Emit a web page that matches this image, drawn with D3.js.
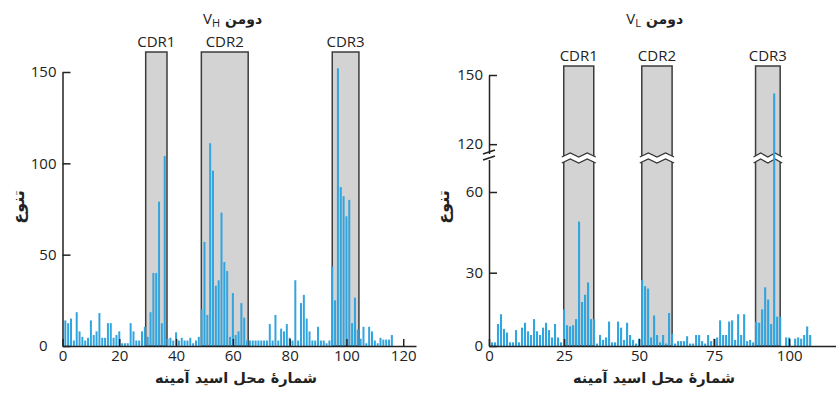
<!DOCTYPE html>
<html>
<head>
<meta charset="utf-8">
<script src="https://cdn.jsdelivr.net/npm/d3@7"></script>
<style>
  body { margin: 0; background: #fff; }
  svg { display: block; }
  .axis path, .axis line { stroke: #222; stroke-width: 1.5; }
  .axis text { font-family: "Open Sans", sans-serif; font-size: 15px; fill: #222; }
</style>
</head>
<body>
<div id="chart"></div>
<script>
// variability per residue
var vhValues = [14, 12.5, 15, 3, 18.5, 8, 5, 3, 4.5, 14, 6, 8, 18, 4.5, 4.5, 12.5, 12.5, 4.5, 6, 8,
  1.5, 1.5, 1.5, 12.5, 8, 3, 3, 8, 10.5, 5, 18.5, 40, 40, 79, 12.5, 104, 4, 4.5, 3, 7.5,
  3, 4.5, 3, 3, 4.5, 1.5, 3, 5, 20, 57, 17, 111, 96, 33, 36, 73, 46, 41, 5, 29,
  6, 8, 23.5, 15.5, 3, 3, 3, 3, 3, 3, 3, 3, 12, 3, 17, 3, 9.5, 8, 12, 4.5,
  3, 36, 3, 23.5, 28, 15, 8, 3, 3, 10.5, 3, 3, 1.5, 3, 43.5, 25, 152, 87, 82, 71,
  80, 12.5, 26.5, 9, 4, 10.5, 1.5, 10.5, 8, 3, 1.5, 4.5, 3.5, 3.5, 3.5, 6];

var vlValues = [1.5, 1.5, 9, 13, 7, 5.5, 1.5, 1.5, 6.5, 1.5, 7.5, 9.5, 6, 4.5, 11, 6, 4.5, 7.5, 9.5, 6.5,
  3.5, 9, 3.5, 1.5, 15, 8.5, 8, 8.5, 11, 49, 18, 21, 26, 11, 11, 1, 4.5, 2.5, 3.5, 10,
  1.5, 1.5, 10, 7.5, 2.5, 9.5, 4.5, 2.5, 1, 3, 27, 24.5, 23.5, 3.5, 12.5, 4.5, 1.5, 4.5, 1, 13.5,
  5, 1, 2, 2, 2, 4, 1, 1, 4.5, 4.5, 2, 1, 4.5, 2, 3, 3.5, 10.5, 4.5, 4.5, 10,
  10.5, 2.5, 13, 4.5, 13, 2, 2.5, 1.5, 10, 9.5, 15, 24, 19, 9, 142, 12, 12, 0, 3.5, 3.5,
  0, 3, 3.5, 3, 4.5, 8, 4.5];

var cdrNames = ["CDR1", "CDR2", "CDR3"];
var vhCdr = [[29.3, 36.8], [48.9, 65.4], [95, 104.4]];
var vlCdr = [[24.9, 34.9], [50.9, 61], [88.8, 97]];

var vhXTicks = [0, 20, 40, 60, 80, 100, 120];
var vhYTicks = [0, 50, 100, 150];
var vlXTicks = [0, 25, 50, 75, 100];
var vlYTicks = [0, 30, 60, 120, 150];

var domainWord = "دومن";
var xTitle = "شمارۀ محل اسید آمینه";
var yTitle = "تنوع";

var width = 836, height = 394;
var svg = d3.select('#chart').append('svg').attr('width', width).attr('height', height);

function drawPanel(p) {
  var g = svg.append('g');
  var y0 = p.y(0);

  // CDR boxes
  g.selectAll('rect.cdr')
    .data(p.cdr)
    .enter()
    .append('rect')
    .attr('x', function (d) { return p.x(d[0]); })
    .attr('y', p.boxTop)
    .attr('width', function (d) { return p.x(d[1]) - p.x(d[0]); })
    .attr('height', y0 - p.boxTop)
    .attr('fill', '#d3d3d3')
    .attr('stroke', '#3c3c3c')
    .attr('stroke-width', 1.5);

  g.selectAll('text.cdr')
    .data(p.cdr)
    .enter()
    .append('text')
    .attr('x', function (d) { return (p.x(d[0]) + p.x(d[1])) / 2; })
    .attr('y', p.boxTop - 5)
    .attr('text-anchor', 'middle')
    .style('font-family', '"Open Sans", sans-serif')
    .style('font-size', '15px')
    .style('fill', '#222')
    .text(function (d, i) { return cdrNames[i]; });

  // broken-scale zigzags across the boxes
  if (p.brk) {
    var yb = p.brk;
    p.cdr.forEach(function (d) {
      var x1 = p.x(d[0]) - 2, x2 = p.x(d[1]) + 2;
      var top = d3.range(5).map(function (i) {
        return [x1 + i * (x2 - x1) / 4, yb + (i % 2 === 0 ? -1 : -5)];
      });
      var bot = top.map(function (q) { return [q[0], q[1] + 6]; });
      g.append('path')
        .attr('d', d3.line()(top.concat(bot.slice().reverse())) + 'Z')
        .attr('fill', '#fff');
      [top, bot].forEach(function (pts) {
        g.append('path')
          .attr('d', d3.line()(pts))
          .attr('fill', 'none')
          .attr('stroke', '#333')
          .attr('stroke-width', 1.2);
      });
    });
  }

  // bars
  var bw = (p.x(1) - p.x(0)) * 0.7;
  g.selectAll('rect.bar')
    .data(p.values)
    .enter()
    .append('rect')
    .attr('x', function (d, i) { return p.x(i + 1) - bw / 2; })
    .attr('y', function (d) { return p.y(d); })
    .attr('width', bw)
    .attr('height', function (d) { return y0 - p.y(d); })
    .attr('fill', '#32a4de');

  // axes
  g.append('g')
    .attr('class', 'axis')
    .attr('transform', 'translate(0,' + y0 + ')')
    .call(d3.axisBottom(p.x).tickValues(p.xTicks).tickSizeInner(-7).tickSizeOuter(0).tickPadding(4));

  var ya = g.append('g')
    .attr('class', 'axis')
    .attr('transform', 'translate(' + p.x(0) + ',0)')
    .call(d3.axisLeft(p.y).tickValues(p.yTicks).tickSizeInner(-8).tickSizeOuter(0).tickPadding(6));
  ya.selectAll('.tick text').filter(function (d) { return d === 0; }).attr('x', -p.zeroPad);

  if (p.brk) {
    var ax = p.x(0);
    g.append('rect').attr('x', ax - 3).attr('y', p.brk - 4).attr('width', 6).attr('height', 6).attr('fill', '#fff');
    [[p.brk - 4, p.brk - 8], [p.brk + 2, p.brk - 2]].forEach(function (s) {
      g.append('line')
        .attr('x1', ax - 6).attr('y1', s[0])
        .attr('x2', ax + 6).attr('y2', s[1])
        .attr('stroke', '#222').attr('stroke-width', 1.4);
    });
  }

  // titles
  var t = g.append('text')
    .attr('x', p.titleX - 2)
    .attr('y', 24)
    .attr('text-anchor', 'end')
    .style('font-family', '"Open Sans", sans-serif')
    .style('font-size', '15px')
    .style('fill', '#222')
    .text('V');
  t.append('tspan').attr('dy', 3).style('font-size', '11px').text(p.sub);

  g.append('text')
    .attr('x', p.titleX + 3)
    .attr('y', 24)
    .attr('text-anchor', 'start')
    .style('font-family', '"DejaVu Sans", sans-serif')
    .style('font-size', '14px')
    .style('font-weight', 'bold')
    .style('fill', '#222')
    .text(domainWord);

  g.append('text')
    .attr('x', p.xTitleX)
    .attr('y', 383)
    .attr('text-anchor', 'middle')
    .style('font-family', '"DejaVu Sans", sans-serif')
    .style('font-size', '14.5px')
    .style('font-weight', 'bold')
    .style('fill', '#222')
    .text(xTitle);

  g.append('text')
    .attr('transform', 'translate(' + p.yTitleX + ',207) rotate(-90)')
    .attr('text-anchor', 'middle')
    .style('font-family', '"DejaVu Sans", sans-serif')
    .style('font-size', '16px')
    .style('font-weight', 'bold')
    .style('fill', '#222')
    .text(yTitle);
}

drawPanel({
  values: vhValues,
  cdr: vhCdr,
  x: d3.scaleLinear().domain([0, 124.5]).range([62.5, 416]),
  y: d3.scaleLinear().domain([0, 150]).range([346, 72]),
  xTicks: vhXTicks,
  yTicks: vhYTicks,
  boxTop: 52,
  sub: 'H',
  titleX: 222,
  xTitleX: 236,
  yTitleX: 24,
  zeroPad: 15,
  brk: null
});

drawPanel({
  values: vlValues,
  cdr: vlCdr,
  x: d3.scaleLinear().domain([0, 115.6]).range([489, 836]),
  y: d3.scaleLinear().domain([0, 30, 60, 73, 114, 150]).range([346, 272.7, 192, 158, 158, 75]),
  xTicks: vlXTicks,
  yTicks: vlYTicks,
  boxTop: 66,
  sub: 'L',
  titleX: 643,
  xTitleX: 654,
  yTitleX: 449,
  zeroPad: 6,
  brk: 158
});
</script>
</body>
</html>
